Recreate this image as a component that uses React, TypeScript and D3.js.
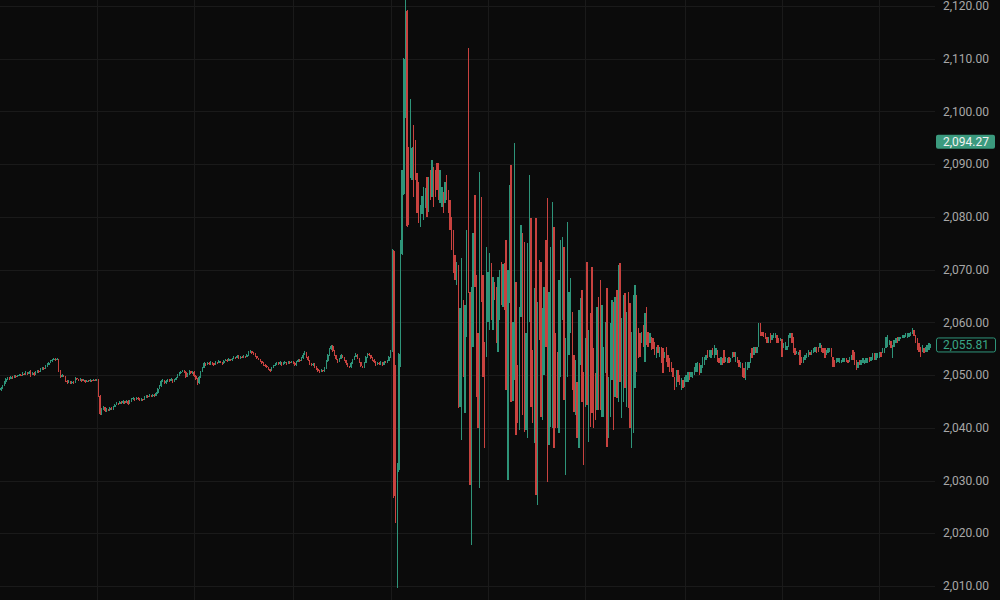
import React from "react";
import * as d3 from "d3";

type Candle = [number, number, number, number]; // [open, high, low, close]

const priceTicks = [2010, 2020, 2030, 2040, 2050, 2060, 2070, 2080, 2090, 2100, 2110, 2120];
const timeGridIdx = [58, 117, 177, 236, 295, 354, 414, 473, 532];
const lastPrice = 2055.81;
const markPrice = 2094.27;

const preDrop: Candle[] = [
  [2047.2,2047.8,2047.0,2047.6],[2047.6,2048.2,2047.4,2048.0],[2048.0,2048.8,2047.9,2048.6],[2048.6,2049.4,2048.4,2049.2],
  [2049.2,2049.6,2049.0,2049.4],[2049.4,2049.6,2049.1,2049.3],[2049.3,2049.8,2049.2,2049.6],[2049.6,2049.8,2049.3,2049.5],
  [2049.5,2050.0,2049.4,2049.8],[2049.8,2050.0,2049.5,2049.7],[2049.7,2050.1,2049.6,2049.9],[2049.9,2050.3,2049.8,2050.1],
  [2050.1,2050.3,2049.8,2050.0],[2050.0,2050.5,2049.9,2050.3],[2050.3,2050.4,2050.0,2050.2],[2050.2,2050.7,2050.1,2050.5],
  [2050.5,2050.6,2050.1,2050.3],[2050.3,2050.8,2050.2,2050.6],[2050.6,2051.0,2049.6,2050.2],[2050.2,2050.6,2050.0,2050.4],
  [2050.4,2050.5,2049.9,2050.1],[2050.1,2050.7,2050.0,2050.5],[2050.5,2051.0,2050.4,2050.8],[2050.8,2050.9,2050.4,2050.6],
  [2050.6,2051.3,2050.5,2051.1],[2051.1,2051.6,2051.0,2051.4],[2051.4,2051.5,2051.0,2051.2],[2051.2,2051.9,2051.1,2051.7],
  [2051.7,2052.2,2051.6,2052.0],[2052.0,2052.5,2051.9,2052.3],[2052.3,2052.8,2052.2,2052.6],[2052.6,2053.1,2052.5,2052.9],
  [2052.9,2053.3,2052.8,2053.1],[2053.1,2053.2,2052.7,2052.9],[2052.9,2053.2,2052.8,2053.0],[2053.0,2053.1,2050.6,2050.8],
  [2050.8,2051.0,2049.5,2049.7],[2049.7,2050.2,2049.6,2050.0],[2050.0,2050.1,2049.6,2049.8],[2049.8,2049.9,2048.7,2048.9],
  [2048.9,2049.0,2048.4,2048.6],[2048.6,2049.0,2048.5,2048.8],[2048.8,2048.9,2048.3,2048.5],[2048.5,2048.9,2048.4,2048.7],
  [2048.7,2048.8,2048.4,2048.6],[2048.6,2049.6,2048.5,2049.4],[2049.4,2049.5,2049.0,2049.2],[2049.2,2049.3,2048.8,2049.0],
  [2049.0,2049.4,2048.9,2049.2],[2049.2,2049.3,2048.7,2048.9],[2048.9,2049.2,2048.8,2049.0],[2049.0,2049.1,2048.5,2048.7],
  [2048.7,2049.1,2048.6,2048.9],[2048.9,2049.0,2048.6,2048.8],[2048.8,2049.2,2048.7,2049.0],[2049.0,2049.1,2048.7,2048.9],
  [2048.9,2049.3,2048.8,2049.1],[2049.1,2049.2,2048.8,2049.0],[2049.0,2049.2,2048.8,2049.0],
];

const drift: Candle[] = [
  [2049.0,2049.2,2045.8,2046.0],[2046.0,2046.2,2042.4,2042.6],[2042.6,2043.8,2042.4,2043.6],[2043.6,2044.1,2043.4,2043.9],
  [2043.9,2044.0,2043.0,2043.2],[2043.2,2043.7,2043.0,2043.5],[2043.5,2043.6,2043.1,2043.3],[2043.3,2044.0,2043.2,2043.8],
  [2043.8,2043.9,2043.3,2043.5],[2043.5,2044.2,2043.4,2044.0],[2044.0,2044.6,2043.9,2044.4],[2044.4,2044.9,2044.3,2044.7],
  [2044.7,2044.8,2044.4,2044.6],[2044.6,2045.1,2044.5,2044.9],[2044.9,2045.0,2044.5,2044.7],[2044.7,2045.2,2044.6,2045.0],
  [2045.0,2045.1,2044.6,2044.8],[2044.8,2045.3,2044.7,2045.1],[2045.1,2045.3,2044.4,2044.6],[2044.6,2045.2,2044.5,2045.0],
  [2045.0,2045.6,2044.9,2045.4],[2045.4,2045.8,2045.3,2045.6],[2045.6,2045.7,2045.1,2045.3],[2045.3,2045.9,2045.2,2045.7],
  [2045.7,2045.8,2045.3,2045.5],[2045.5,2045.7,2045.0,2045.2],[2045.2,2045.6,2045.1,2045.4],[2045.4,2045.5,2045.1,2045.3],
  [2045.3,2046.0,2045.2,2045.8],[2045.8,2046.3,2045.7,2046.1],[2046.1,2046.2,2045.7,2045.9],[2045.9,2046.4,2045.8,2046.2],
  [2046.2,2046.3,2045.8,2046.0],[2046.0,2046.5,2045.9,2046.3],[2046.3,2046.4,2045.9,2046.1],[2046.1,2046.8,2046.0,2046.6],
  [2046.6,2047.6,2046.5,2047.4],[2047.4,2048.1,2047.3,2047.9],[2047.9,2049.0,2047.8,2048.8],[2048.8,2049.3,2048.7,2049.0],
  [2049.0,2049.1,2048.3,2048.5],[2048.5,2049.0,2048.4,2048.8],[2048.8,2049.3,2048.7,2049.1],[2049.1,2049.2,2048.7,2048.9],
  [2048.9,2049.4,2048.8,2049.2],[2049.2,2049.3,2048.5,2048.7],[2048.7,2049.3,2048.6,2049.1],[2049.1,2049.7,2049.0,2049.5],
  [2049.5,2050.2,2049.4,2050.0],[2050.0,2050.6,2049.9,2050.4],[2050.4,2050.8,2050.3,2050.6],[2050.6,2051.0,2050.5,2050.8],
  [2050.8,2050.9,2050.4,2050.6],[2050.6,2050.7,2049.5,2049.7],[2049.7,2050.4,2049.6,2050.2],[2050.2,2050.9,2050.1,2050.7],
  [2050.7,2050.8,2050.2,2050.4],[2050.4,2050.8,2050.3,2050.6],[2050.6,2050.7,2049.7,2049.9],
];

const plateau: Candle[] = [
  [2049.9,2050.1,2049.0,2049.3],[2049.3,2049.4,2048.1,2048.5],[2048.5,2049.8,2048.3,2049.6],[2049.6,2050.8,2049.5,2050.6],
  [2050.6,2051.6,2050.5,2051.4],[2051.4,2052.4,2051.3,2052.2],[2052.2,2052.3,2051.8,2052.0],[2052.0,2052.5,2051.9,2052.3],
  [2052.3,2052.4,2051.9,2052.1],[2052.1,2052.6,2052.0,2052.4],[2052.4,2052.5,2052.0,2052.2],[2052.2,2052.3,2051.8,2052.0],
  [2052.0,2052.6,2051.9,2052.4],[2052.4,2052.5,2052.1,2052.3],[2052.3,2052.8,2052.2,2052.6],[2052.6,2052.7,2052.2,2052.4],
  [2052.4,2052.5,2052.0,2052.2],[2052.2,2052.9,2052.1,2052.7],[2052.7,2053.1,2052.6,2052.9],[2052.9,2053.0,2052.5,2052.7],
  [2052.7,2053.2,2052.6,2053.0],[2053.0,2053.1,2052.6,2052.8],[2052.8,2053.3,2052.7,2053.1],[2053.1,2053.6,2053.0,2053.4],
  [2053.4,2053.5,2053.1,2053.3],[2053.3,2053.9,2053.2,2053.7],[2053.7,2053.9,2053.0,2053.2],[2053.2,2053.7,2053.1,2053.5],
  [2053.5,2053.6,2053.2,2053.4],[2053.4,2053.8,2053.3,2053.6],[2053.6,2053.7,2053.3,2053.5],[2053.5,2054.0,2053.4,2053.8],
  [2053.8,2054.5,2053.7,2054.3],[2054.3,2054.7,2054.2,2054.5],[2054.5,2054.6,2054.0,2054.2],[2054.2,2054.3,2053.8,2054.0],
  [2054.0,2054.1,2053.4,2053.6],[2053.6,2053.7,2053.0,2053.2],[2053.2,2053.3,2052.8,2053.0],[2053.0,2053.1,2052.4,2052.6],
  [2052.6,2052.7,2052.1,2052.3],[2052.3,2052.4,2051.8,2052.0],[2052.0,2052.1,2051.6,2051.8],[2051.8,2051.9,2051.3,2051.5],
  [2051.5,2051.6,2050.9,2051.1],[2051.1,2051.2,2050.6,2050.8],[2050.8,2051.6,2050.7,2051.4],[2051.4,2052.0,2051.3,2051.8],
  [2051.8,2052.2,2051.7,2052.0],[2052.0,2052.5,2051.9,2052.3],[2052.3,2052.4,2051.9,2052.1],[2052.1,2052.6,2052.0,2052.4],
  [2052.4,2052.5,2051.8,2052.0],[2052.0,2052.4,2051.9,2052.2],[2052.2,2052.6,2052.1,2052.4],[2052.4,2052.5,2052.0,2052.2],
  [2052.2,2052.7,2052.1,2052.5],[2052.5,2052.6,2052.1,2052.3],[2052.3,2052.7,2052.2,2052.5],[2052.5,2052.6,2052.1,2052.3],
];

const preNews: Candle[] = [
  [2052.3,2052.4,2051.7,2051.9],[2051.9,2052.7,2051.8,2052.5],[2052.5,2053.1,2052.4,2052.9],[2052.9,2053.0,2052.5,2052.7],
  [2052.7,2053.4,2052.6,2053.2],[2053.2,2054.1,2053.1,2053.9],[2053.9,2054.5,2053.8,2054.3],[2054.3,2054.4,2053.3,2053.5],
  [2053.5,2053.6,2052.6,2052.8],[2052.8,2052.9,2052.0,2052.2],[2052.2,2052.3,2051.7,2051.9],[2051.9,2052.3,2051.8,2052.1],
  [2052.1,2052.2,2051.4,2051.6],[2051.6,2051.7,2051.0,2051.2],[2051.2,2051.3,2050.5,2050.7],[2050.7,2050.9,2050.4,2050.6],
  [2050.6,2051.1,2050.5,2050.9],[2050.9,2051.0,2050.5,2050.7],[2050.7,2051.5,2050.6,2051.3],[2051.3,2052.8,2051.2,2052.6],
  [2052.6,2054.0,2052.5,2053.8],[2053.8,2055.1,2053.7,2054.9],[2054.9,2055.8,2054.8,2055.5],[2055.5,2055.7,2054.4,2054.6],
  [2054.6,2054.7,2053.6,2053.8],[2053.8,2053.9,2052.8,2053.0],[2053.0,2053.1,2052.3,2052.5],[2052.5,2053.3,2052.4,2053.1],
  [2053.1,2054.0,2053.0,2053.8],[2053.8,2053.9,2053.2,2053.4],[2053.4,2053.5,2052.6,2052.8],[2052.8,2052.9,2052.0,2052.2],
  [2052.2,2052.3,2051.5,2051.7],[2051.7,2051.8,2051.3,2051.5],[2051.5,2052.4,2051.4,2052.2],[2052.2,2053.1,2052.1,2052.9],
  [2052.9,2053.7,2052.8,2053.5],[2053.5,2054.1,2053.4,2053.9],[2053.9,2054.0,2053.0,2053.2],[2053.2,2053.3,2052.2,2052.4],
  [2052.4,2052.5,2051.5,2051.7],[2051.7,2051.8,2051.3,2051.5],[2051.5,2052.5,2051.4,2052.3],[2052.3,2053.6,2052.2,2053.4],
  [2053.4,2054.2,2053.3,2054.0],[2054.0,2054.2,2053.6,2053.8],[2053.8,2053.9,2053.1,2053.3],[2053.3,2053.4,2052.7,2052.9],
  [2052.9,2053.0,2052.3,2052.5],[2052.5,2052.6,2051.8,2052.0],[2052.0,2052.5,2051.9,2052.3],[2052.3,2052.4,2051.9,2052.1],
  [2052.1,2052.6,2052.0,2052.4],[2052.4,2052.5,2051.8,2052.0],[2052.0,2052.7,2051.9,2052.5],[2052.5,2052.6,2052.2,2052.4],
  [2052.4,2052.9,2052.3,2052.7],[2052.7,2053.6,2052.6,2053.4],[2053.4,2054.7,2053.3,2054.5],
];

const newsSpike: Candle[] = [
  [2054.5,2073.9,2054.3,2073.5],[2073.5,2073.7,2026.7,2027.0],[2051.5,2051.9,2021.9,2022.0],
  [2010.0,2033.3,2009.6,2033.0],[2032.0,2054.2,2031.6,2054.0],[2051.6,2075.6,2051.5,2075.5],[2073.0,2088.9,2072.8,2088.9],
  [2084.3,2110.1,2084.2,2110.0],[2098.8,2121.5,2098.8,2119.5],[2119.0,2119.3,2078.1,2078.3],[2093.3,2093.3,2078.5,2078.5],
  [2087.4,2102.4,2087.4,2102.3],[2087.0,2093.3,2087.0,2093.0],[2097.4,2097.4,2083.8,2083.8],[2094.6,2094.6,2087.0,2087.0],
  [2088.3,2088.3,2080.7,2080.7],[2086.6,2086.6,2078.9,2078.9],[2078.1,2082.3,2078.1,2082.3],[2080.5,2084.0,2080.5,2084.0],
  [2079.4,2085.7,2079.4,2085.7],
  [2081.7,2085.5,2081.7,2085.5],[2087.6,2087.6,2080.0,2080.0],[2080.9,2087.6,2080.9,2087.6],[2088.9,2088.9,2083.2,2083.2],
  [2083.8,2090.8,2083.8,2090.8],[2089.5,2089.5,2081.9,2081.9],[2088.9,2088.9,2083.8,2083.8],[2090.2,2090.2,2085.1,2085.1],
  [2090.2,2090.2,2083.2,2083.2],[2082.6,2088.9,2082.6,2088.9],[2081.9,2085.7,2081.9,2085.7],[2084.7,2084.7,2080.7,2080.7],
  [2082.6,2086.6,2082.6,2086.6],[2087.9,2087.9,2083.2,2083.2],[2085.1,2085.1,2080.7,2080.7],[2083.2,2083.2,2077.5,2077.5],
  [2080.0,2080.0,2073.7,2073.7],[2077.5,2077.5,2069.4,2069.4],[2072.8,2072.8,2068.0,2068.0],[2067.1,2071.5,2067.1,2071.5],
  [2070.9,2070.9,2043.8,2043.8],[2044.0,2062.7,2044.0,2062.7],[2037.8,2072.2,2037.7,2072.0],[2064.2,2064.2,2049.6,2049.6],
  [2042.8,2063.3,2042.8,2063.3],[2057.2,2077.5,2057.2,2077.5],[2112.0,2112.0,2065.6,2065.6],[2065.8,2065.8,2029.2,2029.2],
];

const whipsawA: Candle[] = [
  [2017.8,2066.7,2017.8,2066.7],[2055.3,2076.9,2055.3,2076.9],[2084.2,2084.2,2066.7,2066.7],[2069.0,2069.0,2045.8,2045.8],
  [2058.0,2058.0,2040.0,2040.0],[2028.6,2088.5,2028.6,2088.5],[2083.8,2083.8,2063.9,2063.9],[2069.0,2069.0,2049.6,2049.6],
  [2056.3,2056.3,2036.2,2036.2],[2053.4,2074.3,2053.4,2074.3],[2060.1,2069.6,2060.1,2069.6],[2058.6,2073.2,2058.6,2073.2],
  [2071.3,2071.3,2060.5,2060.5],[2058.6,2068.6,2058.6,2068.6],[2067.7,2067.7,2064.2,2064.2],[2066.7,2066.7,2056.1,2056.1],
  [2054.4,2068.6,2054.4,2068.6],[2060.5,2069.9,2060.5,2069.9],[2071.5,2071.5,2063.3,2063.3],[2063.0,2071.0,2063.0,2071.0],
  [2071.3,2071.3,2062.3,2062.3],[2075.6,2075.6,2047.2,2047.2],[2030.1,2069.9,2030.1,2069.9],[2063.7,2086.0,2063.7,2086.0],
  [2089.8,2089.8,2044.9,2044.9],[2045.0,2060.0,2045.0,2060.0],[2049.1,2094.0,2049.1,2094.0],[2067.7,2067.7,2038.6,2038.6],
  [2052.0,2052.0,2041.0,2041.0],[2039.6,2062.9,2039.6,2062.9],[2061.0,2078.5,2061.0,2078.5],[2076.9,2076.9,2042.4,2042.4],
  [2075.2,2075.2,2039.2,2039.2],[2039.5,2058.0,2039.5,2058.0],[2038.1,2075.0,2038.1,2075.0],[2060.1,2088.0,2060.1,2088.0],
  [2079.8,2079.8,2043.9,2043.9],[2054.8,2054.8,2040.9,2040.9],[2037.1,2066.5,2037.1,2066.5],[2079.8,2079.8,2027.3,2027.3],
  [2025.4,2063.9,2025.4,2063.9],[2071.8,2071.8,2056.7,2056.7],[2071.4,2071.4,2042.0,2042.0],[2041.5,2062.7,2041.5,2062.7],
  [2050.0,2066.7,2050.0,2066.7],[2075.6,2075.6,2055.3,2055.3],[2083.6,2083.6,2029.7,2029.7],[2036.7,2065.8,2036.7,2065.8],
  [2040.2,2074.3,2040.2,2074.3],[2040.0,2082.8,2040.0,2082.8],[2078.1,2078.1,2036.2,2036.2],[2058.0,2058.0,2040.0,2040.0],
  [2054.4,2054.4,2040.0,2040.0],[2039.0,2068.0,2039.0,2068.0],
];

const whipsawB: Candle[] = [
  [2049.6,2075.6,2049.6,2075.6],[2060.5,2076.2,2060.5,2076.2],[2074.3,2074.3,2045.3,2045.3],[2031.1,2057.0,2031.1,2057.0],
  [2049.6,2079.0,2049.6,2079.0],[2053.8,2065.8,2053.8,2065.8],[2058.0,2068.4,2058.0,2068.4],[2062.0,2062.0,2047.2,2047.2],
  [2053.8,2053.8,2043.0,2043.0],[2042.4,2052.9,2042.4,2052.9],[2048.7,2048.7,2038.1,2038.1],[2036.2,2062.3,2036.2,2062.3],
  [2051.9,2064.6,2051.9,2064.6],[2066.1,2066.1,2044.9,2044.9],[2050.6,2050.6,2032.9,2032.9],[2043.9,2057.0,2043.9,2057.0],
  [2071.4,2071.4,2044.3,2044.3],[2037.3,2058.6,2037.3,2058.6],[2061.8,2061.8,2040.2,2040.2],[2070.5,2070.5,2042.8,2042.8],
  [2055.1,2055.1,2040.0,2040.0],[2050.4,2050.4,2041.5,2041.5],[2043.4,2062.9,2043.4,2062.9],[2064.8,2064.8,2043.4,2043.4],
  [2068.0,2068.0,2043.4,2043.4],[2042.0,2063.3,2042.0,2063.3],[2042.0,2055.3,2042.0,2055.3],[2050.4,2060.1,2050.4,2060.1],
  [2066.5,2066.5,2036.4,2036.4],[2038.1,2049.6,2038.1,2049.6],[2042.0,2059.9,2042.0,2059.9],[2049.1,2064.2,2049.1,2064.2],
  [2063.9,2063.9,2039.6,2039.6],[2045.9,2064.8,2045.9,2064.8],[2066.1,2066.1,2045.7,2045.7],[2044.9,2070.9,2044.9,2070.9],
  [2071.3,2071.3,2048.7,2048.7],[2041.9,2060.8,2041.9,2060.8],[2044.9,2065.2,2044.9,2065.2],[2065.6,2065.6,2047.6,2047.6],
  [2043.9,2062.0,2043.9,2062.0],[2065.8,2065.8,2043.8,2043.8],[2063.7,2063.7,2040.0,2040.0],[2036.2,2058.2,2036.2,2058.2],
  [2039.0,2065.2,2039.0,2065.2],[2047.6,2067.1,2047.6,2067.1],[2065.2,2065.2,2050.6,2050.6],[2058.9,2058.9,2053.2,2053.2],
  [2058.0,2058.0,2053.4,2053.4],[2056.1,2058.2,2056.1,2058.2],[2059.5,2059.5,2055.3,2055.3],[2052.5,2061.8,2052.5,2061.8],
];

const recovery: Candle[] = [
  [2062.9,2062.9,2055.7,2055.7],[2058.2,2058.2,2055.3,2055.3],[2056.1,2057.9,2056.1,2057.9],[2057.2,2057.2,2054.8,2054.8],
  [2057.0,2057.0,2055.0,2055.0],[2056.3,2056.3,2053.8,2053.8],[2053.3,2055.3,2053.3,2055.3],[2055.7,2055.7,2054.2,2054.2],
  [2053.4,2055.3,2053.4,2055.3],[2055.3,2055.3,2052.3,2052.3],[2055.1,2055.1,2050.4,2050.4],[2053.3,2054.4,2053.3,2054.4],
  [2055.3,2055.3,2052.5,2052.5],[2053.8,2053.8,2051.5,2051.5],[2053.3,2053.3,2050.6,2050.6],[2052.5,2052.5,2050.6,2050.6],
  [2051.4,2051.4,2049.6,2049.6],[2049.6,2049.6,2047.2,2047.2],[2047.7,2051.0,2047.7,2051.0],[2051.0,2051.0,2048.7,2048.7],
  [2050.0,2050.0,2048.1,2048.1],[2047.2,2049.4,2047.2,2049.4],[2049.1,2049.1,2047.6,2047.6],[2047.7,2049.6,2047.7,2049.6],
  [2048.7,2050.0,2048.7,2050.0],[2048.7,2050.6,2048.7,2050.6],[2050.6,2050.6,2049.1,2049.1],[2049.6,2050.6,2049.6,2050.6],
  [2049.4,2050.6,2049.4,2050.6],[2050.0,2051.5,2050.0,2051.5],[2050.6,2052.3,2050.6,2052.3],[2050.6,2052.5,2050.6,2052.5],
  [2052.3,2052.3,2050.0,2050.0],[2050.4,2051.9,2050.4,2051.9],[2051.4,2053.4,2051.4,2053.4],[2051.9,2053.4,2051.9,2053.4],
  [2052.9,2053.8,2052.9,2053.8],[2054.8,2054.8,2053.2,2053.2],[2053.4,2054.8,2053.4,2054.8],[2053.2,2054.8,2053.2,2054.8],
  [2055.1,2055.1,2053.8,2053.8],[2053.2,2055.7,2053.2,2055.7],[2053.8,2055.1,2053.8,2055.1],[2054.8,2054.8,2052.5,2052.5],
  [2053.2,2053.2,2052.3,2052.3],[2051.9,2053.4,2051.9,2053.4],[2053.2,2053.2,2051.9,2051.9],[2054.8,2054.8,2052.3,2052.3],
  [2052.5,2053.4,2052.5,2053.4],[2052.3,2053.3,2052.3,2053.3],[2053.4,2053.4,2052.3,2052.3],[2052.5,2053.3,2052.5,2053.3],
  [2053.2,2054.4,2053.2,2054.4],[2054.4,2054.4,2053.4,2053.4],[2052.5,2054.4,2052.5,2054.4],[2053.4,2053.4,2052.3,2052.3],
  [2052.9,2052.9,2051.5,2051.5],[2051.4,2052.5,2051.4,2052.5],[2052.3,2052.3,2049.6,2049.6],[2051.4,2051.4,2049.4,2049.4],
  [2049.1,2052.5,2049.1,2052.5],[2051.0,2052.5,2051.0,2052.5],[2051.4,2052.5,2051.4,2052.5],[2052.3,2054.2,2052.3,2054.2],
  [2055.1,2055.1,2053.2,2053.2],[2053.8,2055.3,2053.8,2055.3],[2055.3,2055.3,2054.2,2054.2],[2054.2,2055.3,2054.2,2055.3],
  [2055.3,2059.9,2055.3,2059.9],[2059.9,2059.9,2057.4,2057.4],[2058.2,2058.2,2057.4,2057.4],[2058.2,2058.2,2057.2,2057.2],
  [2058.0,2058.0,2056.8,2056.8],[2057.2,2057.2,2056.1,2056.1],[2056.1,2057.2,2056.1,2057.2],[2057.9,2057.9,2056.1,2056.1],
  [2056.6,2057.6,2056.6,2057.6],[2057.0,2058.0,2057.0,2058.0],[2057.0,2057.9,2057.0,2057.9],[2057.6,2057.6,2056.1,2056.1],
  [2057.0,2057.0,2056.1,2056.1],[2056.4,2057.0,2056.4,2057.0],[2056.8,2056.8,2053.4,2053.4],[2055.1,2056.1,2055.1,2056.1],
  [2054.8,2056.3,2054.8,2056.3],[2054.8,2055.5,2054.8,2055.5],[2055.3,2057.6,2055.3,2057.6],[2057.0,2058.0,2057.0,2058.0],
  [2058.0,2058.0,2056.1,2056.1],[2057.2,2057.2,2054.2,2054.2],[2055.1,2055.1,2053.8,2053.8],[2054.0,2054.6,2054.0,2054.6],
  [2053.8,2054.4,2053.8,2054.4],
];

const closingHour: Candle[] = [
  [2054.8,2054.8,2051.9,2051.9],[2053.4,2053.4,2052.3,2052.3],[2052.3,2053.4,2052.3,2053.4],[2052.9,2053.8,2052.9,2053.8],
  [2053.2,2054.2,2053.2,2054.2],[2053.4,2054.8,2053.4,2054.8],[2054.4,2054.4,2053.8,2053.8],[2053.8,2054.8,2053.8,2054.8],
  [2054.2,2055.1,2054.2,2055.1],[2054.4,2055.3,2054.4,2055.3],[2055.3,2055.3,2054.2,2054.2],[2055.3,2055.3,2054.4,2054.4],
  [2055.1,2056.1,2055.1,2056.1],[2055.7,2055.7,2054.4,2054.4],[2055.1,2055.1,2054.2,2054.2],[2055.1,2055.1,2053.2,2053.2],
  [2053.8,2054.8,2053.8,2054.8],[2054.2,2055.1,2054.2,2055.1],[2054.4,2055.1,2054.4,2055.1],[2055.1,2055.1,2053.4,2053.4],
  [2053.4,2053.4,2051.5,2051.5],[2052.9,2052.9,2051.5,2051.5],[2052.3,2053.2,2052.3,2053.2],[2052.5,2053.2,2052.5,2053.2],
  [2052.3,2053.2,2052.3,2053.2],[2052.3,2052.9,2052.3,2052.9],[2052.5,2053.2,2052.5,2053.2],[2052.5,2053.2,2052.5,2053.2],
  [2053.2,2053.2,2052.5,2052.5],[2052.9,2052.9,2052.3,2052.3],[2052.5,2053.4,2052.5,2053.4],[2052.9,2053.8,2052.9,2053.8],
  [2054.8,2054.8,2052.9,2052.9],[2054.4,2054.4,2051.9,2051.9],[2052.9,2052.9,2051.0,2051.0],[2051.4,2052.5,2051.4,2052.5],
  [2052.9,2052.9,2051.9,2051.9],[2051.9,2052.9,2051.9,2052.9],[2052.3,2053.2,2052.3,2053.2],[2052.1,2052.9,2052.1,2052.9],
  [2052.3,2053.2,2052.3,2053.2],[2052.3,2053.2,2052.3,2053.2],[2053.4,2053.4,2052.5,2052.5],[2052.7,2053.4,2052.7,2053.4],
  [2052.9,2054.2,2052.9,2054.2],[2054.2,2054.2,2052.9,2052.9],[2052.9,2054.2,2052.9,2054.2],[2053.2,2054.2,2053.2,2054.2],
  [2053.2,2054.4,2053.2,2054.4],[2054.4,2054.4,2053.4,2053.4],[2054.2,2055.1,2054.2,2055.1],[2054.2,2055.1,2054.2,2055.1],
  [2055.1,2057.2,2055.1,2057.2],[2055.3,2057.6,2055.3,2057.6],[2055.7,2056.6,2055.7,2056.6],[2056.4,2056.4,2055.1,2055.1],
  [2053.2,2055.7,2053.2,2055.7],[2055.3,2056.6,2055.3,2056.6],[2056.1,2057.0,2056.1,2057.0],[2057.2,2057.2,2056.1,2056.1],
  [2056.4,2057.2,2056.4,2057.2],[2056.8,2057.2,2056.8,2057.2],[2057.0,2057.6,2057.0,2057.6],[2057.0,2057.6,2057.0,2057.6],
  [2057.2,2058.0,2057.2,2058.0],[2057.0,2058.0,2057.0,2058.0],[2057.2,2058.0,2057.2,2058.0],[2057.4,2058.2,2057.4,2058.2],
  [2057.8,2059.0,2057.8,2059.0],[2058.6,2058.6,2057.4,2057.4],[2057.6,2057.6,2056.1,2056.1],[2057.0,2057.0,2054.8,2054.8],
  [2056.1,2056.1,2054.4,2054.4],[2055.3,2055.3,2053.4,2053.4],[2054.4,2055.7,2054.4,2055.7],[2055.1,2055.1,2054.2,2054.2],
  [2054.4,2055.3,2054.4,2055.3],[2054.4,2055.7,2054.4,2055.7],[2054.8,2056.1,2054.8,2056.1],[2055.2,2055.9,2055.1,2055.81],
];

const candles: Candle[] = [
  ...preDrop, ...drift, ...plateau, ...preNews, ...newsSpike,
  ...whipsawA, ...whipsawB, ...recovery, ...closingHour,
];

const BG = "#0b0b0b";
const GRID = "#1a1a1a";
const UP = "#2e9479";
const DOWN = "#c8423f";
const AXIS_TEXT = "#a8a8a8";
const LABEL_FILL = "#3b9a7e";
const FONT = "Roboto, 'Noto Sans', Arial, sans-serif";

export default function App() {
  const W = 1000;
  const H = 600;
  const plotRight = 935;
  const x = d3.scaleLinear().domain([0, candles.length - 1]).range([1, 930.5]);
  const y = d3.scaleLinear().domain([2010, 2120]).range([586, 6]);
  const fmt = d3.format(",.2f");

  return (
    <svg
      width={W}
      height={H}
      style={{ position: "fixed", left: 0, top: 0, display: "block" }}
      fontFamily={FONT}
    >
      <rect x={0} y={0} width={W} height={H} fill={BG} />
      <g shapeRendering="crispEdges">
        {priceTicks.map((p) => (
          <line key={"h" + p} x1={0} x2={plotRight} y1={Math.round(y(p)) + 0.5} y2={Math.round(y(p)) + 0.5} stroke={GRID} strokeWidth={1} />
        ))}
        {timeGridIdx.map((i) => (
          <line key={"v" + i} x1={Math.round(x(i)) + 0.5} x2={Math.round(x(i)) + 0.5} y1={0} y2={H} stroke={GRID} strokeWidth={1} />
        ))}
      </g>
      <g shapeRendering="crispEdges">
        {candles.map(([o, h, l, c], i) => {
          const cx = x(i);
          const color = c >= o ? UP : DOWN;
          const yh = y(h);
          const yl = y(l);
          const bt = y(Math.max(o, c));
          const bb = y(Math.min(o, c));
          return (
            <g key={i} fill={color}>
              <rect x={cx - 0.5} y={yh} width={1} height={Math.max(1, yl - yh)} />
              <rect x={cx - 0.7} y={bt} width={1.4} height={Math.max(1, bb - bt)} />
            </g>
          );
        })}
      </g>
      <g>
        {priceTicks.map((p) => (
          <text key={"t" + p} x={943} y={y(p)} dy="0.35em" fontSize={12} fill={AXIS_TEXT}>
            {fmt(p)}
          </text>
        ))}
      </g>
      <g>
        <rect x={936} y={y(markPrice) - 7} width={59} height={14} rx={2} fill={LABEL_FILL} />
        <text x={943} y={y(markPrice)} dy="0.35em" fontSize={12} fill="#f2f2f2">
          {fmt(markPrice)}
        </text>
        <rect x={936.5} y={y(lastPrice) - 6.5} width={59} height={14} rx={2} fill={BG} stroke={UP} strokeWidth={1} />
        <text x={943} y={y(lastPrice)} dy="0.35em" fontSize={12} fill="#3aa686">
          {fmt(lastPrice)}
        </text>
      </g>
    </svg>
  );
}
